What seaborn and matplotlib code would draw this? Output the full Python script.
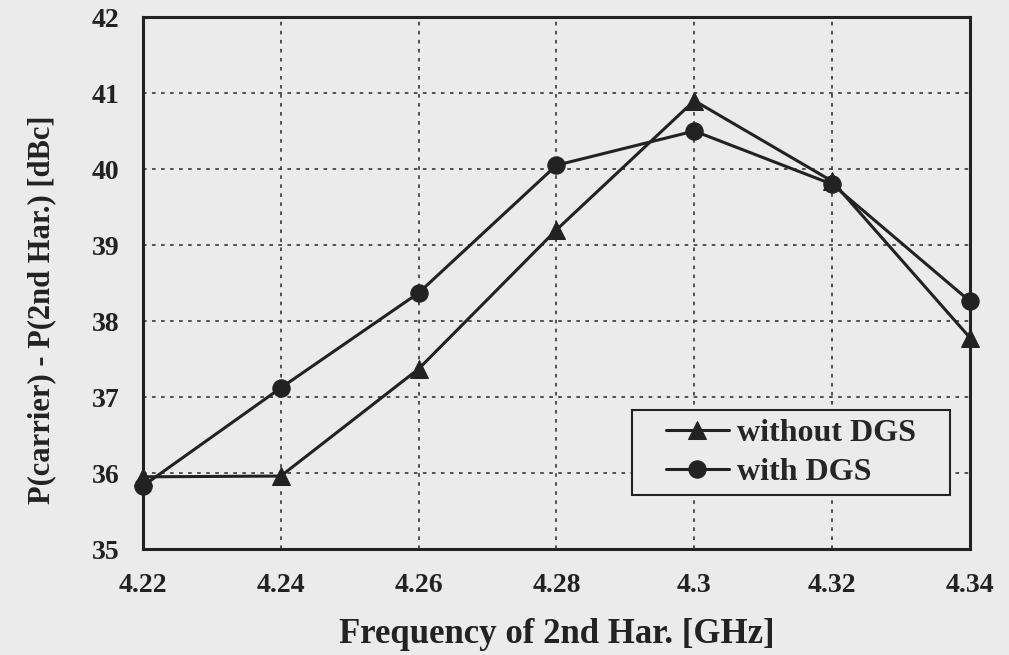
import matplotlib
matplotlib.use("Agg")
import matplotlib.pyplot as plt
import matplotlib.patches as mpatches
import seaborn as sns
import pandas as pd

freq = [4.22, 4.24, 4.26, 4.28, 4.30, 4.32, 4.34]
without_dgs = [35.95, 35.96, 37.37, 39.20, 40.90, 39.84, 37.78]
with_dgs = [35.83, 37.12, 38.37, 40.05, 40.50, 39.80, 38.26]
x_ticks = [4.22, 4.24, 4.26, 4.28, 4.30, 4.32, 4.34]
x_tick_labels = ["4.22", "4.24", "4.26", "4.28", "4.3", "4.32", "4.34"]
y_ticks = [35, 36, 37, 38, 39, 40, 41, 42]

df = pd.concat([
    pd.DataFrame({"f": freq, "v": without_dgs, "s": "without DGS"}),
    pd.DataFrame({"f": freq, "v": with_dgs, "s": "with DGS"}),
])

sns.set_style("white")
plt.rcParams['font.family'] = ['Liberation Serif', 'DejaVu Serif']

bg = "#ebebeb"
ink = "#222222"
fig = plt.figure(figsize=(10.09, 6.55), dpi=100, facecolor=bg)
ax = fig.add_axes([0.1417, 0.1618, 0.8196, 0.8122])
ax.set_facecolor(bg)

sns.lineplot(data=df, x="f", y="v", hue="s", style="s",
             markers={"without DGS": "^", "with DGS": "o"}, dashes=False,
             palette={"without DGS": ink, "with DGS": ink},
             markersize=12.5, linewidth=2.2, markeredgecolor=ink,
             ax=ax, legend=True, clip_on=False, zorder=3)

ax.set_xlim(4.22, 4.34)
ax.set_ylim(35, 42)
ax.set_xticks(x_ticks)
ax.set_xticklabels(x_tick_labels)
ax.set_yticks(y_ticks)
ax.grid(True, linestyle=(0, (2, 3)), color="#444444", linewidth=1.3)
for sp in ax.spines.values():
    sp.set_linewidth(2.2)
    sp.set_color(ink)
ax.tick_params(axis="both", labelsize=20, colors=ink, length=0)
ax.tick_params(axis="x", pad=17)
ax.tick_params(axis="y", pad=17)
for lab in ax.get_xticklabels() + ax.get_yticklabels():
    lab.set_fontweight("bold")

ax.set_xlabel("Frequency of 2nd Har. [GHz]", fontsize=25, fontweight="bold",
              color=ink, labelpad=15)
ax.set_ylabel("P(carrier) - P(2nd Har.) [dBc]", fontsize=22, fontweight="bold",
              color=ink)
ax.yaxis.set_label_coords(-0.105, 0.449)

# legend box
box = mpatches.Rectangle((0.591, 0.1015), 0.385, 0.1595, transform=ax.transAxes,
                         facecolor=bg, edgecolor=ink, linewidth=1.5, zorder=4,
                         clip_on=False)
ax.add_patch(box)
leg = ax.legend(loc="center", bbox_to_anchor=(0.7835, 0.181),
                prop={"family": "Liberation Serif", "weight": "bold", "size": 23},
                frameon=False, handlelength=1.95,
                borderpad=0.0, labelspacing=0.3, handletextpad=0.25,
                borderaxespad=0.0)
leg.set_zorder(5)

fig.savefig("out.png", dpi=100, facecolor=bg)
